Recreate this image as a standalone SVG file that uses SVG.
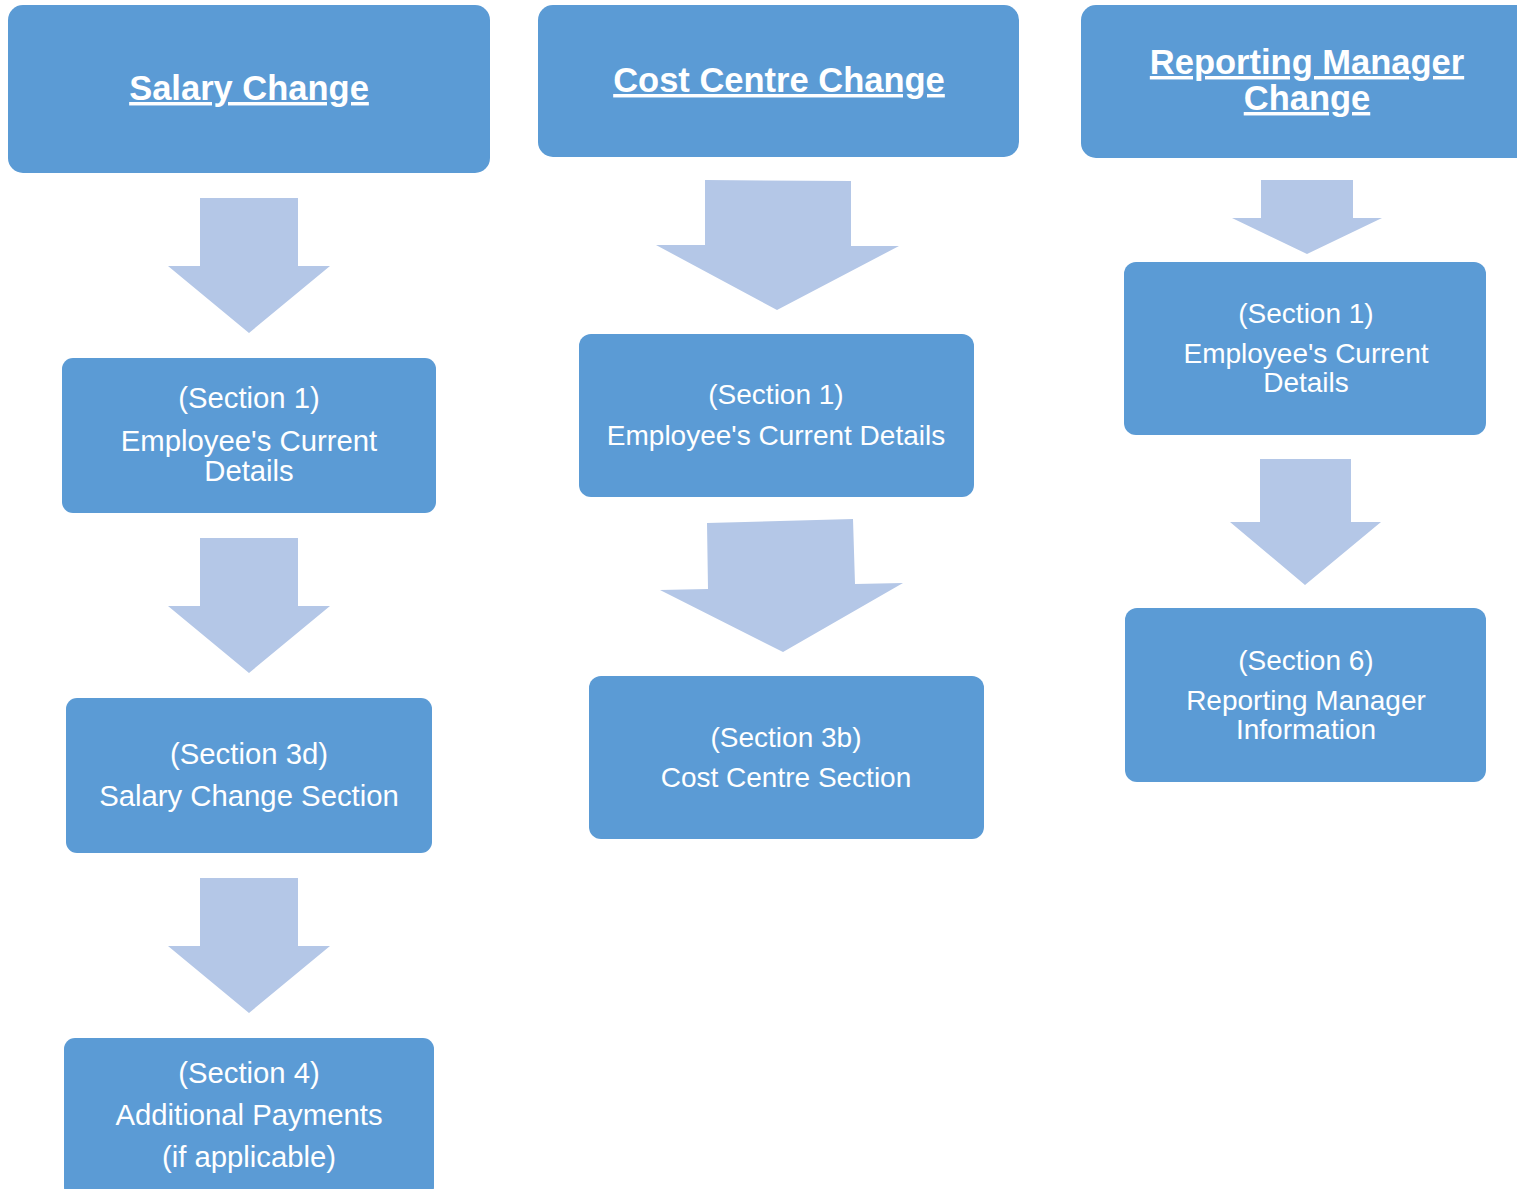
<svg xmlns="http://www.w3.org/2000/svg" width="1517" height="1189" viewBox="0 0 1517 1189">
<style>
.box{fill:#5B9BD5;}
.arr{fill:#B4C7E7;}
.h{font-family:"Liberation Sans",Arial,sans-serif;font-weight:bold;font-size:34.5px;fill:#fff;text-anchor:middle;text-decoration:underline;}
.t{font-family:"Liberation Sans",Arial,sans-serif;font-size:28px;fill:#fff;text-anchor:middle;}
.t1{font-size:29.3px;}
</style>
<rect width="1517" height="1189" fill="#fff"/>
<g id="connectors">
<polygon class="arr" points="200,198 298,198 298,266 330,266 249,333 168,266 200,266"/>
<polygon class="arr" points="200,538 298,538 298,606 330,606 249,673 168,606 200,606"/>
<polygon class="arr" points="200,878 298,878 298,946 330,946 249,1013 168,946 200,946"/>
<polygon class="arr" points="705,180 851,181 851,246 899,246 777,310 656,245 705,245"/>
<polygon class="arr" points="707,523 853,519 855,584 903,583 783,652 660,590 708,589"/>
<polygon class="arr" points="1261,180 1353,180 1353,218 1382,218 1307,254 1232,218 1261,218"/>
<polygon class="arr" points="1260,459 1351,459 1351,522 1381,522 1305,585 1230,522 1260,522"/>
</g>
<g id="salary-change"><rect class="box" x="8" y="5" width="482" height="168" rx="15"/><text class="h" x="249" y="100">Salary Change</text></g>
<g id="s1-emp"><rect class="box" x="62" y="358" width="374" height="155" rx="11"/><text class="t t1" x="249" y="408">(Section 1)</text><text class="t t1" x="249" y="451">Employee's Current</text><text class="t t1" x="249" y="481">Details</text></g>
<g id="s3d-salary"><rect class="box" x="66" y="698" width="366" height="155" rx="11"/><text class="t t1" x="249" y="764">(Section 3d)</text><text class="t t1" x="249" y="806">Salary Change Section</text></g>
<g id="s4-additional"><rect class="box" x="64" y="1038" width="370" height="160" rx="11"/><text class="t t1" x="249" y="1083">(Section 4)</text><text class="t t1" x="249" y="1125">Additional Payments</text><text class="t t1" x="249" y="1167">(if applicable)</text></g>
<g id="cost-centre-change"><rect class="box" x="538" y="5" width="481" height="152" rx="15"/><text class="h" x="779" y="92">Cost Centre Change</text></g>
<g id="cc-s1-emp"><rect class="box" x="579" y="334" width="395" height="163" rx="12"/><text class="t" x="776" y="404">(Section 1)</text><text class="t" x="776" y="445">Employee's Current Details</text></g>
<g id="cc-s3b"><rect class="box" x="589" y="676" width="395" height="163" rx="12"/><text class="t" x="786" y="747">(Section 3b)</text><text class="t" x="786" y="787">Cost Centre Section</text></g>
<g id="reporting-manager-change"><rect class="box" x="1081" y="5" width="460" height="153" rx="15"/><text class="h" x="1307" y="74">Reporting Manager</text><text class="h" x="1307" y="110">Change</text></g>
<g id="rm-s1-emp"><rect class="box" x="1124" y="262" width="362" height="173" rx="12"/><text class="t" x="1306" y="323">(Section 1)</text><text class="t" x="1306" y="363">Employee's Current</text><text class="t" x="1306" y="392">Details</text></g>
<g id="rm-s6"><rect class="box" x="1125" y="608" width="361" height="174" rx="12"/><text class="t" x="1306" y="670">(Section 6)</text><text class="t" x="1306" y="710">Reporting Manager</text><text class="t" x="1306" y="739">Information</text></g>
</svg>
